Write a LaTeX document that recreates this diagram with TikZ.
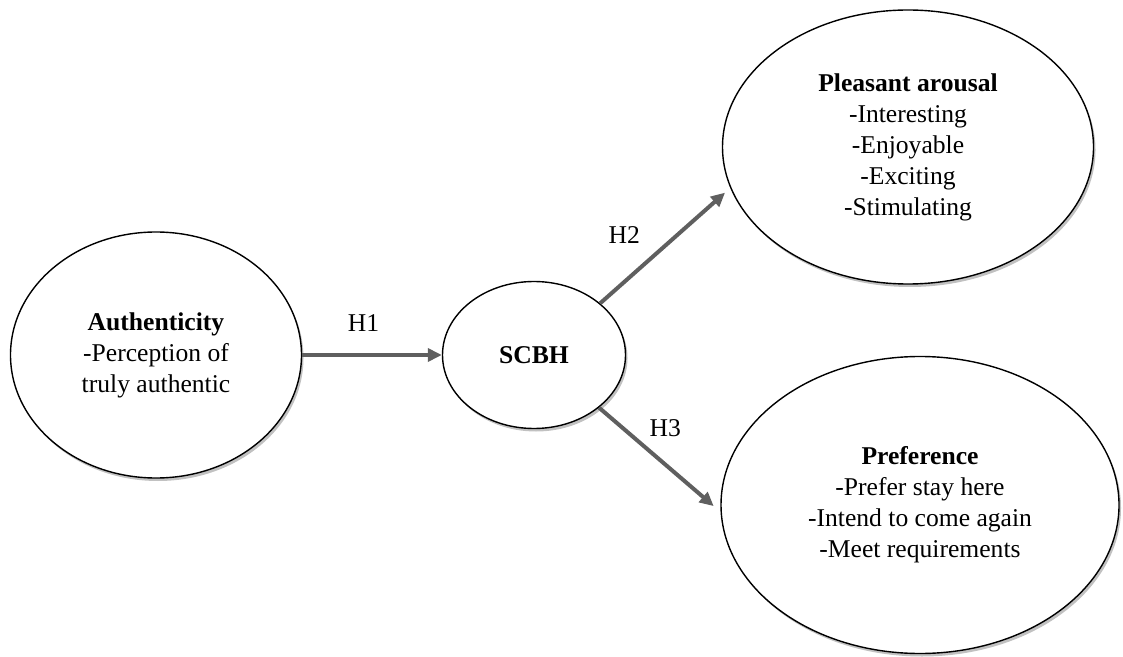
\documentclass[tikz,border=0pt]{standalone}
\usepackage{fontspec}
\setmainfont{Liberation Serif}
\usepackage{tikz}
\usetikzlibrary{shapes.geometric,shadows,arrows.meta}
\tikzset{font=\fontsize{12.8}{15.5}\selectfont}
\definecolor{arrowgray}{HTML}{5F5F5F}

\begin{document}
\begin{tikzpicture}[x=0.5pt,y=-0.5pt,
    construct/.style={ellipse,draw,line width=0.7pt,fill=white,inner sep=0pt,align=center,
      drop shadow={shadow xshift=1pt,shadow yshift=-1.5pt,opacity=.35,fill=black!70}},
    hyp/.style={draw=arrowgray,line width=2pt,-{Triangle[length=7pt,width=6.5pt]}}]
    \useasboundingbox (0,0) rectangle (1123,657);

    \node[construct,minimum width=145.5pt,minimum height=123pt] (auth) at (156,355)
      {\textbf{Authenticity}\\-Perception of\\truly authentic};
    \node[construct,minimum width=91.5pt,minimum height=73.5pt] (scbh) at (534,355)
      {\textbf{SCBH}};
    \node[construct,minimum width=185.5pt,minimum height=137pt] (arousal) at (908,147)
      {\textbf{Pleasant arousal}\\-Interesting\\-Enjoyable\\-Exciting\\-Stimulating};
    \node[construct,minimum width=199pt,minimum height=148.5pt] (pref) at (920,505)
      {\textbf{Preference}\\-Prefer stay here\\-Intend to come again\\-Meet requirements};

    \draw[hyp] (auth.east) -- (scbh.west) node[pos=.44,yshift=16pt] (h1) {H1};
    \draw[hyp,shorten >=3.5pt] (scbh.38) -- (arousal.193) node[pos=.4,xshift=-14pt,yshift=11pt] (h2) {H2};
    \draw[hyp,shorten >=4.5pt] (scbh.-39) -- (pref.182) node[pos=.5,xshift=2.75pt,yshift=16pt] (h3) {H3};
\end{tikzpicture}
\end{document}
